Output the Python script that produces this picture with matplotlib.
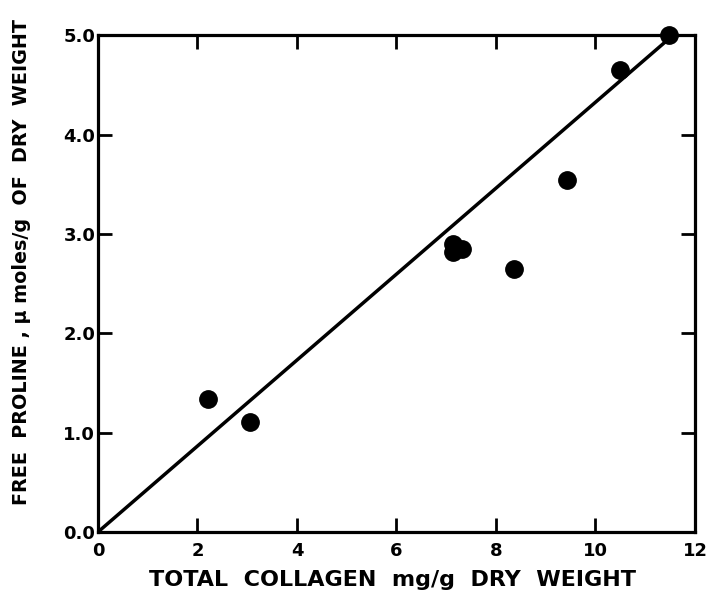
import matplotlib
matplotlib.use("Agg")
import matplotlib.pyplot as plt

# collagen (mg/g dry weight) vs free proline (umoles/g dry weight)
collagen = [2.22, 3.06, 7.13, 7.14, 7.31, 8.36, 9.43, 10.49, 11.47]
proline = [1.34, 1.11, 2.90, 2.82, 2.85, 2.65, 3.54, 4.65, 5.00]

# fitted line end points
line_x = [0.0, 11.56]
line_y = [0.0, 5.0]

x_ticks = [0, 2, 4, 6, 8, 10, 12]
y_ticks = [0.0, 1.0, 2.0, 3.0, 4.0, 5.0]
y_ticklabels = ["0.0", "1.0", "2.0", "3.0", "4.0", "5.0"]

plt.rcParams['font.family'] = ['DejaVu Sans']
plt.rcParams['font.weight'] = 'bold'

fig = plt.figure(figsize=(7.07, 5.95), dpi=100)
ax = fig.add_axes([0.1386, 0.1059, 0.8444, 0.835])

ax.plot(line_x, line_y, color='black', lw=2.5, solid_capstyle='butt')
ax.plot(collagen, proline, 'o', color='black', markersize=12.5, clip_on=False, zorder=3)

ax.set_xlim(0, 12)
ax.set_ylim(0, 5.0)
ax.set_xticks(x_ticks)
ax.set_xticklabels([str(t) for t in x_ticks])
ax.set_yticks(y_ticks)
ax.set_yticklabels(y_ticklabels)

for s in ax.spines.values():
    s.set_linewidth(2.3)

ax.tick_params(direction='in', length=10, width=2.0, top=True, right=True,
               labelsize=13)
ax.tick_params(axis='x', pad=7)
ax.tick_params(axis='y', pad=2)
for lab in ax.get_xticklabels() + ax.get_yticklabels():
    lab.set_fontweight('bold')

fig.text(0.031, 1 - 262 / 595, "FREE  PROLINE , \u03bc moles/g  OF  DRY  WEIGHT",
         rotation=90, ha='center', va='center', fontsize=13.8, fontweight='bold')
fig.text(392 / 707, 1 - 580 / 595, "TOTAL  COLLAGEN  mg/g  DRY  WEIGHT",
         ha='center', va='center', fontsize=16, fontweight='bold')

fig.savefig("out.png", dpi=100)
